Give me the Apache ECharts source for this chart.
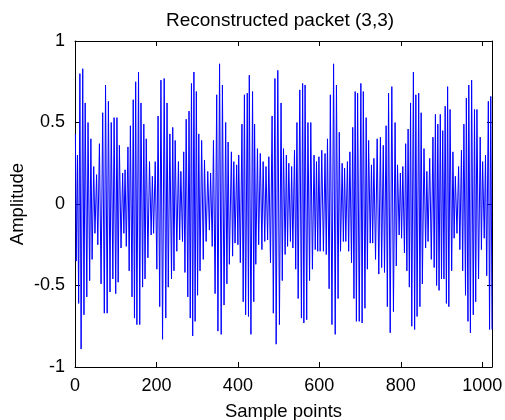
<!DOCTYPE html>
<html>
<head>
<meta charset="utf-8">
<script src="https://cdn.jsdelivr.net/npm/echarts@6/dist/echarts.min.js"></script>
<style>
html,body{margin:0;padding:0;background:#fff;}
#chart{width:505px;height:420px;}
</style>
</head>
<body>
<div id="chart"></div>
<script>
// Local extrema of the reconstructed packet: [sample, amplitude]
const seg1 = [[1,0.43],[3,-0.35],[6,0.30],[9,-0.61],[12,0.80],[15,-0.89],[19,0.83],[22,-0.68],[25,0.62],[29,-0.57],[32,0.50],[36,-0.47],[39,0.40],[42,-0.34],[46,0.23],[49,-0.18],[53,0.18],[56,-0.25],[60,0.37],[64,-0.49],[68,0.56],[72,-0.67],[75,0.73],[79,-0.67],[82,0.63],[86,-0.54],[89,0.50],[93,-0.46],[96,0.53],[100,-0.55],[103,0.53],[106,-0.48],[109,0.36],[113,-0.27],[117,0.19],[120,-0.18],[123,0.21],[126,-0.26],[130,0.35],[133,-0.41],[136,0.48],[140,-0.57],[143,0.64],[146,-0.70]];
const seg2 = [[149,0.75],[152,-0.74],[156,0.81],[159,-0.74],[162,0.62],[166,-0.51],[169,0.49],[172,-0.46],[175,0.40],[179,-0.33],[183,0.26],[187,-0.19],[190,0.17],[193,-0.18],[197,0.26],[201,-0.40],[204,0.54],[208,-0.63],[211,0.76],[215,-0.83],[219,0.77],[223,-0.70],[226,0.62],[229,-0.51],[233,0.43],[237,-0.46],[240,0.47],[243,-0.41],[246,0.39],[250,-0.29],[254,0.26],[257,-0.22],[260,0.20],[264,-0.23],[267,0.32],[270,-0.42],[273,0.52],[277,-0.57],[280,0.57],[283,-0.70],[286,0.74],[289,-0.81],[292,0.81]];
const seg3 = [[295,-0.72],[298,0.69],[301,-0.56],[304,0.43],[307,-0.41],[311,0.39],[315,-0.34],[318,0.27],[322,-0.23],[326,0.20],[330,-0.16],[333,0.19],[337,-0.26],[340,0.39],[344,-0.55],[348,0.67],[351,-0.78],[355,0.86],[359,-0.80],[362,0.73],[366,-0.62],[370,0.50],[373,-0.49],[376,0.38],[379,-0.37],[384,0.32],[387,-0.32],[390,0.26],[393,-0.24],[397,0.24],[400,-0.25],[402,0.30],[406,-0.36],[410,0.49],[413,-0.60],[416,0.67],[419,-0.68],[423,0.68],[426,-0.69],[428,0.79],[432,-0.80],[436,0.69],[439,-0.60]];
const seg4 = [[441,0.49],[444,-0.37],[448,0.34],[451,-0.25],[455,0.31],[459,-0.28],[462,0.26],[466,-0.23],[469,0.23],[473,-0.22],[476,0.29],[480,-0.36],[484,0.54],[487,-0.67],[491,0.77],[494,-0.86],[498,0.82],[502,-0.74],[506,0.62],[509,-0.47],[512,0.34],[516,-0.31],[519,0.30],[522,-0.26],[525,0.25],[529,-0.23],[532,0.23],[535,-0.27],[539,0.33],[542,-0.40],[545,0.50],[548,-0.58],[552,0.70],[556,-0.70],[559,0.74],[562,-0.73],[565,0.73],[569,-0.71],[572,0.50],[576,-0.47],[579,0.50],[583,-0.40],[587,0.30]];
const seg5 = [[590,-0.28],[593,0.26],[596,-0.29],[599,0.29],[602,-0.29],[606,0.33],[610,-0.29],[614,0.31],[617,-0.31],[620,0.40],[624,-0.52],[627,0.67],[631,-0.74],[635,0.86],[639,-0.80],[642,0.73],[646,-0.58],[649,0.44],[652,-0.29],[656,0.25],[659,-0.23],[662,0.22],[665,-0.23],[669,0.26],[672,-0.29],[675,0.32],[679,-0.36],[682,0.47],[685,-0.58],[688,0.69],[691,-0.72],[694,0.68],[698,-0.72],[702,0.74],[705,-0.73],[708,0.69],[712,-0.64],[715,0.53],[718,-0.40],[721,0.39],[725,-0.24],[728,0.24],[731,-0.24],[734,0.28]];
const seg6 = [[738,-0.34],[742,0.40],[746,-0.43],[750,0.41],[753,-0.39],[757,0.36],[760,-0.42],[764,0.48],[767,-0.63],[770,0.68],[774,-0.79],[778,0.72],[782,-0.66],[786,0.50],[789,-0.38],[792,0.24],[796,-0.19],[799,0.19],[802,-0.21],[805,0.23],[809,-0.30],[812,0.37],[815,-0.41],[818,0.46],[821,-0.51],[824,0.62],[827,-0.75],[831,0.81],[834,-0.77],[837,0.67],[840,-0.69],[844,0.68],[847,-0.63],[850,0.56],[853,-0.49],[857,0.34],[861,-0.27],[864,0.20],[867,-0.23],[871,0.28],[875,-0.34],[879,0.41]];
const seg7 = [[882,-0.39],[885,0.55],[888,-0.50],[891,0.49],[894,-0.53],[897,0.55],[900,-0.46],[903,0.45],[906,-0.46],[909,0.60],[912,-0.61],[915,0.72],[918,-0.63],[921,0.58],[925,-0.41],[928,0.32],[931,-0.21],[934,0.17],[938,-0.18],[942,0.23],[945,-0.28],[949,0.33],[952,-0.41],[955,0.49],[959,-0.56],[961,0.65],[965,-0.72],[967,0.73],[971,-0.79],[974,0.76],[978,-0.68],[981,0.58],[984,-0.60],[987,0.58],[991,-0.46],[995,0.41],[998,-0.28],[1001,0.26],[1005,-0.21],[1008,0.30],[1011,-0.44],[1015,0.63],[1018,-0.77],[1021,0.66],[1024,-0.77]];

const xTicks = [0, 200, 400, 600, 800, 1000];
const yTicks = [-1, -0.5, 0, 0.5, 1];
const titleText = 'Reconstructed packet (3,3)';
const xLabel = 'Sample points';
const yLabel = 'Amplitude';

const signal = [].concat(seg1, seg2, seg3, seg4, seg5, seg6, seg7);

const FONT = '"Liberation Sans", Arial, Helvetica, sans-serif';
const tickTxt = { color: '#000', fontFamily: FONT, fontSize: 18 };
const nameTxt = { color: '#000', fontFamily: FONT, fontSize: 18.5 };

function xAx(pos, labels) {
  return {
    type: 'value', position: pos, min: 0, max: 1024, interval: 200,
    axisLine: { show: true, onZero: false, lineStyle: { color: '#000', width: 1 } },
    axisTick: { show: true, inside: true, length: 5, lineStyle: { color: '#000', width: 1 } },
    axisLabel: { show: labels, margin: 10, showMaxLabel: false, ...tickTxt,
      formatter: v => xTicks.indexOf(v) >= 0 ? String(v) : '' },
    splitLine: { show: false },
    name: labels ? xLabel : '', nameLocation: 'middle', nameGap: 35, nameMoveOverlap: false,
    nameTextStyle: nameTxt
  };
}
function yAx(pos, labels) {
  return {
    type: 'value', position: pos, min: -1, max: 1, interval: 0.5,
    axisLine: { show: true, onZero: false, lineStyle: { color: '#000', width: 1 } },
    axisTick: { show: true, inside: true, length: 5, lineStyle: { color: '#000', width: 1 } },
    axisLabel: { show: labels, margin: 10, ...tickTxt,
      formatter: v => yTicks.indexOf(v) >= 0 ? String(v) : '' },
    splitLine: { show: false },
    name: labels ? yLabel : '', nameLocation: 'middle', nameGap: 48, nameRotate: 90, nameMoveOverlap: false,
    nameTextStyle: nameTxt
  };
}

const chart = echarts.init(document.getElementById('chart'), null, { renderer: 'canvas' });
chart.setOption({
  animation: false,
  backgroundColor: '#fff',
  title: { text: titleText, left: 161, top: 6,
    textStyle: { color: '#000', fontFamily: FONT, fontSize: 19, fontWeight: 'normal' } },
  grid: { left: 75, right: 13, top: 41, bottom: 53, containLabel: false, outerBoundsMode: 'none' },
  xAxis: [xAx('bottom', true), xAx('top', false)],
  yAxis: [yAx('left', true), yAx('right', false)],
  series: [{
    type: 'line', data: signal, xAxisIndex: 0, yAxisIndex: 0,
    showSymbol: false, symbol: 'none', silent: true,
    lineStyle: { color: '#0000ff', width: 1 }
  }]
});
</script>
</body>
</html>
